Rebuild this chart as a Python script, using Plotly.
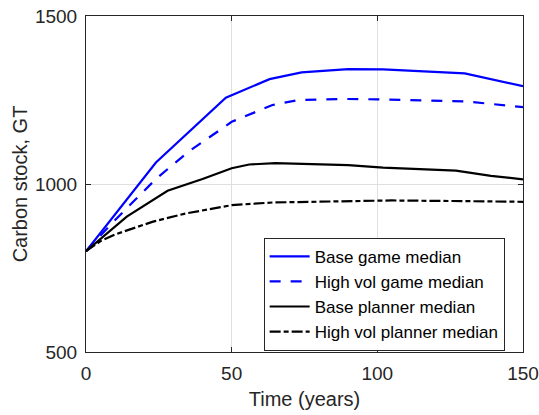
import plotly.graph_objects as go

# Median carbon stock trajectories (GT) over time (years)
t_base_game = [0, 24, 48, 63, 74, 90, 102, 130, 150]
v_base_game = [800, 1064, 1257, 1312, 1332, 1342, 1341, 1329, 1291]

t_high_game = [0, 10, 24, 35, 50, 64, 73, 90, 100, 130, 150]
v_high_game = [800, 893, 1015, 1095, 1185, 1235, 1250, 1253, 1252, 1246, 1229]

t_base_plan = [0, 14, 28, 40, 50, 56, 65, 90, 102, 127, 139, 150]
v_base_plan = [800, 903, 980, 1015, 1047, 1058, 1062, 1056, 1049, 1040, 1024, 1014]

t_high_plan = [0, 5, 10, 17, 23, 34, 40, 50, 64, 90, 105, 130, 150]
v_high_plan = [800, 830, 850, 870, 888, 912, 921, 937, 945, 950, 951, 949, 947]

series_names = ["Base game median", "High vol game median",
                "Base planner median", "High vol planner median"]

x_ticks = [0, 50, 100, 150]
y_ticks = [500, 1000, 1500]

FONT = "Arial, Liberation Sans, Helvetica, sans-serif"
TXT = "#262626"

fig = go.Figure()
fig.add_trace(go.Scatter(x=t_base_game, y=v_base_game, mode="lines",
                         name=series_names[0],
                         line=dict(color="#0000ff", width=2.2)))
fig.add_trace(go.Scatter(x=t_high_game, y=v_high_game, mode="lines",
                         name=series_names[1],
                         line=dict(color="#0000ff", width=2.2, dash="11px,10px")))
fig.add_trace(go.Scatter(x=t_base_plan, y=v_base_plan, mode="lines",
                         name=series_names[2],
                         line=dict(color="#000000", width=2.2)))
fig.add_trace(go.Scatter(x=t_high_plan, y=v_high_plan, mode="lines",
                         name=series_names[3],
                         line=dict(color="#000000", width=2.2, dash="11px,3px,5px,3px")))

axis_common = dict(
    showline=True, linecolor=TXT, linewidth=1, mirror="ticks",
    ticks="inside", ticklen=5, tickcolor=TXT, tickwidth=1,
    showgrid=True, gridcolor="#dfdfdf", gridwidth=1,
    zeroline=False,
    tickfont=dict(family=FONT, size=19, color=TXT),
)

fig.update_xaxes(range=[0, 150], tickvals=x_ticks, ticklabelstandoff=4,
                 title=dict(text="Time (years)", font=dict(family=FONT, size=20, color=TXT),
                            standoff=9),
                 **axis_common)
fig.update_yaxes(range=[500, 1500], tickvals=y_ticks, ticklabelstandoff=4,
                 title=dict(text="Carbon stock, GT", font=dict(family=FONT, size=20, color=TXT),
                            standoff=1),
                 **axis_common)

fig.update_layout(
    width=539, height=415,
    margin=dict(l=86, r=16, t=16, b=63, autoexpand=False),
    paper_bgcolor="white", plot_bgcolor="white",
    showlegend=True,
    legend=dict(x=0.958, y=0.34, xanchor="right", yanchor="top",
                bgcolor="white", bordercolor=TXT, borderwidth=1,
                font=dict(family=FONT, size=17, color="#000000"),
                tracegroupgap=0, itemwidth=40),
)

fig.write_html("out.html")
